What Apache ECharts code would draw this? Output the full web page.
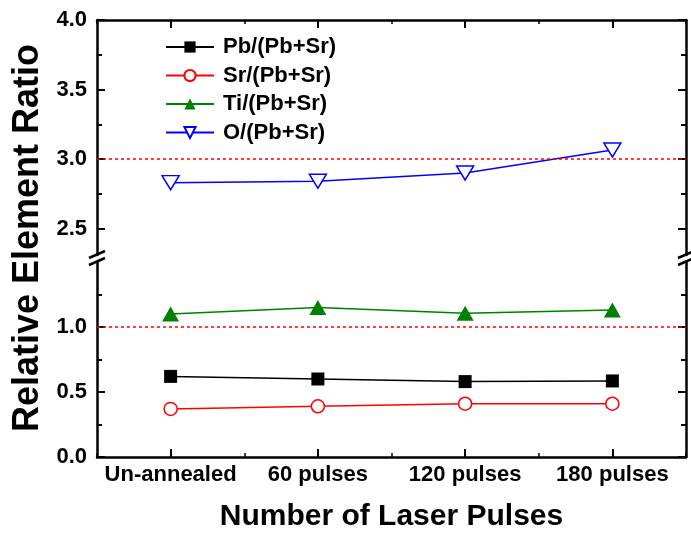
<!DOCTYPE html>
<html>
<head>
<meta charset="utf-8">
<script src="https://cdn.jsdelivr.net/npm/echarts@6/dist/echarts.min.js"></script>
<style>
  html, body { margin: 0; padding: 0; background: #fff; }
  #chart { width: 691px; height: 534px; }
</style>
</head>
<body>
<div id="chart"></div>
<script>
// data
var categories = ["Un-annealed", "60 pulses", "120 pulses", "180 pulses"];
var pbRatio = [0.62, 0.60, 0.58, 0.585];
var srRatio = [0.37, 0.39, 0.41, 0.41];
var tiRatio = [1.10, 1.15, 1.105, 1.13];
var oRatio = [2.83, 2.84, 2.90, 3.065];

var upperMajor = [2.5, 3.0, 3.5, 4.0];
var upperMinor = [2.75, 3.25, 3.75];
var lowerMajor = [0.0, 0.5, 1.0];
var lowerMinor = [0.25, 0.75, 1.25];

(function() {
  var myChart = echarts.init(document.getElementById("chart"));
  var font = "Liberation Sans, Arial, sans-serif";

  // layout of the two stacked panels (broken y axis)
  var L = 97, R = 5, upTop = 20, upH = 235, lowTop = 262, lowH = 195;
  var W = 691;

  function yPair(grid, side, min, max, major, minor, labels) {
    return [
      {
        type: "value", gridIndex: grid, position: side, min: min, max: max,
        axisLine: { show: true, onZero: false, lineStyle: { color: "#000", width: 2.5 } },
        axisTick: { show: true, inside: true, length: 8, customValues: major, lineStyle: { color: "#000", width: 2 } },
        axisLabel: {
          show: labels, customValues: major, margin: 10,
          color: "#000", fontFamily: font, fontWeight: "bold", fontSize: 22,
          formatter: function(v) { return Number(v).toFixed(1); }
        },
        splitLine: { show: false }
      },
      {
        type: "value", gridIndex: grid, position: side, min: min, max: max,
        axisLine: { show: false },
        axisTick: { show: true, inside: true, length: 5, customValues: minor, lineStyle: { color: "#000", width: 2 } },
        axisLabel: { show: false },
        splitLine: { show: false }
      }
    ];
  }

  function xPair(grid, side, labels) {
    return [
      {
        type: "category", gridIndex: grid, position: side, data: categories, boundaryGap: true,
        axisLine: { show: true, onZero: false, lineStyle: { color: "#000", width: 2.5 } },
        axisTick: { show: true, inside: true, alignWithLabel: true, interval: 0, length: 8, lineStyle: { color: "#000", width: 2 } },
        axisLabel: { show: labels, interval: 0, margin: 7, color: "#000", fontFamily: font, fontWeight: "bold", fontSize: 22 },
        name: labels ? "Number of Laser Pulses" : "",
        nameLocation: "middle", nameGap: 45,
        nameTextStyle: { color: "#000", fontFamily: font, fontWeight: "bold", fontSize: 30 },
        splitLine: { show: false }
      },
      {
        type: "category", gridIndex: grid, position: side, data: categories, boundaryGap: true,
        axisLine: { show: false },
        axisTick: { show: true, inside: true, interval: 0, length: 4, lineStyle: { color: "#000", width: 1.5 } },
        axisLabel: { show: false },
        splitLine: { show: false }
      }
    ];
  }

  var refLine = function(v) {
    return {
      silent: true, symbol: "none",
      label: { show: false },
      lineStyle: { color: "#ff0000", width: 1.5, type: [3, 3] },
      data: [{ yAxis: v }]
    };
  };

  // break marks on left and right axes
  var breakMarks = [];
  [L, W - R].forEach(function(x) {
    breakMarks.push({
      type: "line", shape: { x1: x - 8, y1: upTop + upH + 3, x2: x + 8, y2: upTop + upH - 4 },
      style: { stroke: "#000", lineWidth: 2.5 }
    });
    breakMarks.push({
      type: "line", shape: { x1: x - 8, y1: lowTop + 3, x2: x + 8, y2: lowTop - 4 },
      style: { stroke: "#000", lineWidth: 2.5 }
    });
  });

  var option = {
    backgroundColor: "#fff",
    animation: false,
    grid: [
      { left: L, right: R, top: upTop, height: upH },
      { left: L, right: R, top: lowTop, height: lowH }
    ],
    legend: {
      orient: "vertical",
      left: 160, top: 31,
      itemWidth: 48, itemHeight: 14, itemGap: 6.5,
      textStyle: { color: "#000", fontFamily: font, fontWeight: "bold", fontSize: 22, lineHeight: 22, padding: [0, 0, 0, 4] },
      data: ["Pb/(Pb+Sr)", "Sr/(Pb+Sr)", "Ti/(Pb+Sr)", "O/(Pb+Sr)"]
    },
    xAxis: xPair(0, "top", false).concat(xPair(1, "bottom", true)),
    yAxis: yPair(0, "left", 2.31, 4.0, upperMajor, upperMinor, true)
      .concat(yPair(0, "right", 2.31, 4.0, upperMajor, upperMinor, false))
      .concat(yPair(1, "left", 0, 1.5, lowerMajor, lowerMinor, true))
      .concat(yPair(1, "right", 0, 1.5, lowerMajor, lowerMinor, false)),
    graphic: breakMarks.concat([
      {
        type: "text", x: 28, y: 238, rotation: Math.PI / 2,
        style: {
          text: "Relative Element Ratio", fill: "#000",
          font: "bold 36px " + font, align: "center", verticalAlign: "middle"
        }
      }
    ]),
    series: [
      {
        name: "Pb/(Pb+Sr)", type: "line", xAxisIndex: 2, yAxisIndex: 4,
        data: pbRatio, symbol: "rect", symbolSize: 13,
        itemStyle: { color: "#000" }, lineStyle: { color: "#000", width: 1.5 }
      },
      {
        name: "Sr/(Pb+Sr)", type: "line", xAxisIndex: 2, yAxisIndex: 4,
        data: srRatio, symbol: "circle", symbolSize: 13,
        itemStyle: { color: "#fff", borderColor: "#ff0000", borderWidth: 1.5 },
        lineStyle: { color: "#ff0000", width: 1.5 }
      },
      {
        name: "Ti/(Pb+Sr)", type: "line", xAxisIndex: 2, yAxisIndex: 4,
        data: tiRatio, symbol: "triangle", symbolSize: [17, 15],
        itemStyle: { color: "#008000" }, lineStyle: { color: "#008000", width: 1.5 },
        markLine: refLine(1.0)
      },
      {
        name: "O/(Pb+Sr)", type: "line", xAxisIndex: 0, yAxisIndex: 0,
        data: oRatio, symbol: "triangle", symbolRotate: 180, symbolSize: [17, 14],
        itemStyle: { color: "#fff", borderColor: "#0000ff", borderWidth: 1.5 },
        lineStyle: { color: "#0000ff", width: 1.5 },
        markLine: refLine(3.0)
      }
    ]
  };

  myChart.setOption(option);
})();
</script>
</body>
</html>
